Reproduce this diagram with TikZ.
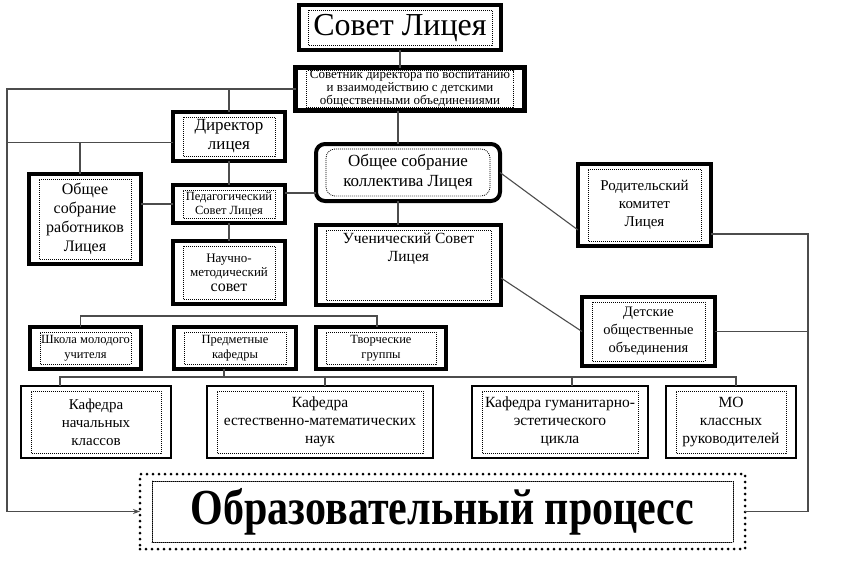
\documentclass[tikz,border=0pt]{standalone}
\usepackage{fontspec}
\setmainfont{Liberation Serif}
\usepackage{graphicx}
\usetikzlibrary{arrows.meta, calc}
\newcommand{\fsz}[2]{\fontsize{#1}{#2}\selectfont}

\begin{document}
\begin{tikzpicture}[
  x=1pt, y=-1pt,
  >={Stealth[length=7pt, width=5pt]},
  vnutri/.style 2 args={path picture={\draw[line width=0.8, dash pattern=on 0.9pt off 1.1pt]
      ([shift={(#1,#2)}]path picture bounding box.south west) rectangle
      ([shift={(-#1,-#2)}]path picture bounding box.north east);}},
  ramka/.style={draw, line width=4, fill=white, align=center, inner sep=0pt,
                outer sep=0pt, vnutri={10pt}{5pt}},
  tonkaya/.style={ramka, line width=1.3},
  svyaz/.style={draw=black!70, line width=1.1}
]
\useasboundingbox (0,0) rectangle (844,573);

% ---------- Верхний уровень ----------
\node[ramka, minimum width=202, minimum height=45, vnutri={9pt}{5pt},
      font=\fsz{32}{36}] (sovet) at (400,27.5) {Совет Лицея};
\node[ramka, line width=5, minimum width=229, minimum height=43, vnutri={11pt}{3pt},
      font=\fsz{13}{13}] (sovetnik) at (410,89)
  {Советник директора по воспитанию\\и взаимодействию с детскими\\общественными объединениями};

% ---------- Левая колонка ----------
\node[ramka, minimum width=112, minimum height=49, font=\fsz{17}{19}] (direktor) at (229,136.5) {Директор\\лицея};
\node[ramka, minimum width=112, minimum height=90, font=\fsz{16}{19}] (sobrRab) at (85,219) {Общее\\собрание\\работников\\Лицея};
\node[ramka, minimum width=112, minimum height=38, font=\fsz{12.5}{14}] (pedsovet) at (229,204) {Педагогический\\Совет Лицея};
\node[ramka, minimum width=112, minimum height=63, font=\fsz{13}{14}] (nms) at (229,272.5)
  {Научно-\\методический\\[1pt]{\fsz{16}{17}совет}};

% ---------- Центральная колонка ----------
\node[ramka, rounded corners=9pt, minimum width=184, minimum height=57, font=\fsz{17}{20}] (sobrKol) at (408,172.5)
  {Общее собрание\\коллектива Лицея};
\node[ramka, minimum width=185, minimum height=80,
      label={[font=\fsz{15.5}{18}, align=center, anchor=north, yshift=-4pt]north:Ученический Совет\\Лицея}]
  (uchSovet) at (408.5,265) {};

% ---------- Правая колонка ----------
\node[ramka, minimum width=133, minimum height=82, font=\fsz{15}{18}] (rodKom) at (644.5,205) {Родительский\\комитет\\Лицея};
\node[ramka, minimum width=133, minimum height=69, font=\fsz{14.5}{18}] (detskie) at (648.5,331.5) {Детские\\общественные\\объединения};

% ---------- Методические объединения ----------
\node[ramka, minimum width=111, minimum height=42, font=\fsz{12.5}{15}] (shkola) at (85.5,348) {Школа молодого\\учителя};
\node[ramka, minimum width=122, minimum height=42, font=\fsz{12.5}{15}] (predmet) at (235,348) {Предметные\\кафедры};
\node[ramka, minimum width=130, minimum height=42, font=\fsz{12.5}{15}] (tvorch) at (381,348) {Творческие\\группы};

% ---------- Кафедры ----------
\node[tonkaya, minimum width=150, minimum height=72, font=\fsz{15}{18}] (kafNach) at (96,422) {Кафедра\\начальных\\классов};
\node[tonkaya, minimum width=226, minimum height=72, font=\fsz{15.5}{18}] (kafEst) at (320,422) {Кафедра\\естественно-математических\\наук};
\node[tonkaya, minimum width=176, minimum height=72, font=\fsz{15.5}{18}] (kafGum) at (560,422) {Кафедра гуманитарно-\\эстетического\\цикла};
\node[tonkaya, minimum width=130, minimum height=72, font=\fsz{15.5}{18}] (mo) at (731,422) {МО\\классных\\руководителей};

% ---------- Образовательный процесс ----------
\node[draw, line width=3, dash pattern=on 0pt off 6pt, line cap=round, fill=white,
      minimum width=605, minimum height=75, inner sep=0pt, outer sep=0pt, vnutri={12pt}{7pt},
      font=\fsz{42}{46}\bfseries] (obrProc) at (442.5,511.5)
  {\scalebox{1}[1.2]{Образовательный процесс}};

% ---------- Шины ----------
\coordinate (shinaL) at (7,91);
\coordinate (shinaR) at (808,234);
\coordinate (lvl) at ([yshift=-6pt]direktor.west);

% ---------- Связи ----------
\draw[svyaz] (sovet.south) -- (sovet.south |- sovetnik.north);
\draw[svyaz, ->] (sovetnik.west) -- (sovetnik.west -| shinaL) -- (shinaL |- obrProc.west) -- (obrProc.west);
\draw[svyaz] (direktor.north) -- (direktor.north |- sovetnik.west);
\draw[svyaz] (lvl) -- (lvl -| shinaL);
\draw[svyaz] ([xshift=-5pt]sobrRab.north) -- ([xshift=-5pt]sobrRab.north |- lvl);
\draw[svyaz] (direktor.south) -- (pedsovet.north);
\draw[svyaz] (pedsovet.west) -- (pedsovet.west -| sobrRab.east);
\draw[svyaz] ([yshift=11pt]pedsovet.east) -- ([yshift=11pt]pedsovet.east -| sobrKol.west);
\draw[svyaz] (pedsovet.south) -- (nms.north);
\draw[svyaz] ([xshift=-10pt]sobrKol.north |- sovetnik.south) -- ([xshift=-10pt]sobrKol.north);
\draw[svyaz] ([xshift=-10pt]sobrKol.south) -- ([xshift=-10pt]sobrKol.south |- uchSovet.north);
\draw[svyaz] (sobrKol.east) -- ([yshift=16pt]rodKom.south west);
\draw[svyaz] ([yshift=-13pt]uchSovet.east) -- (detskie.west);
\draw[svyaz] ([yshift=-29pt]rodKom.east) -| (shinaR |- obrProc.east) -- (obrProc.east);
\draw[svyaz] (detskie.east) -- (detskie.east -| shinaR);
\draw[svyaz] ([xshift=-5pt]shkola.north) -- ++(0,-11) -| ([xshift=-4pt]tvorch.north);
\draw[svyaz] ([xshift=-11pt]predmet.south) -- ++(0,8);
\draw[svyaz] ([xshift=-36pt]kafNach.north) -- ++(0,-9) -| ([xshift=5pt]mo.north);
\draw[svyaz] ([xshift=5pt]kafEst.north) -- ++(0,-9);
\draw[svyaz] ([xshift=12pt]kafGum.north) -- ++(0,-9);

\end{tikzpicture}
\end{document}
